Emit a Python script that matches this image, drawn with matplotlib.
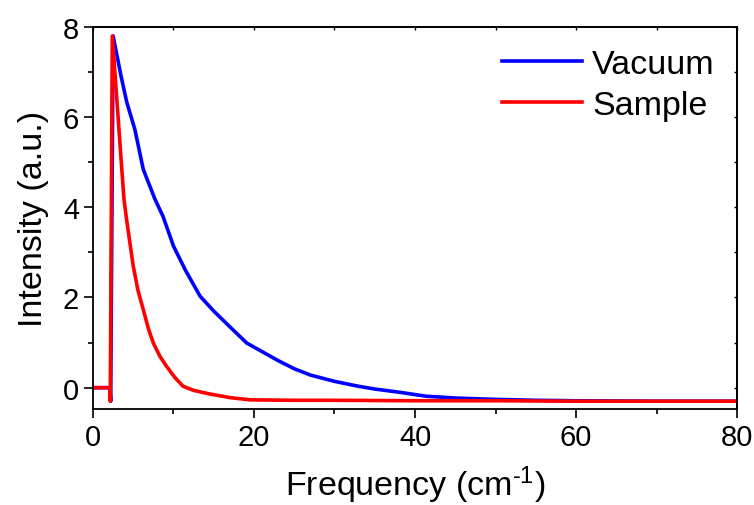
import numpy as np
import matplotlib
matplotlib.use('Agg')
import matplotlib.pyplot as plt

plt.rcParams['font.family'] = ['Liberation Sans', 'DejaVu Sans']
plt.rcParams['mathtext.fontset'] = 'custom'
plt.rcParams['mathtext.rm'] = 'Liberation Sans'
plt.rcParams['mathtext.it'] = 'Liberation Sans'

# values
vac_x = [0, 2.1, 2.2, 2.5, 3, 3.5, 4.2, 5.2, 6.25, 7.7, 8.7, 10, 11.5, 13.3, 15, 17, 19.1, 21, 23, 25,
         27, 30, 33, 35, 38, 41.4, 45, 50, 55, 60, 70, 80]
vac_y = [0, 0, -0.3, 7.8, 7.35, 6.9, 6.33, 5.73, 4.84, 4.18, 3.8, 3.14, 2.6, 2.03, 1.7, 1.35, 0.99, 0.8, 0.6, 0.42,
         0.28, 0.14, 0.03, -0.03, -0.1, -0.19, -0.23, -0.26, -0.28, -0.29, -0.3, -0.3]

smp_x = [0, 2.1, 2.15, 2.4, 3.0, 3.5, 3.85, 4.2, 4.6, 5.0, 5.6, 6.25, 6.9, 7.5, 8.3, 9.15, 10.2, 11.2,
         12.5, 14.5, 17, 19.5, 25, 30, 40, 50, 60, 70, 80]
smp_y = [0, 0, -0.3, 7.8, 6.3, 5.05, 4.18, 3.7, 3.2, 2.7, 2.15, 1.73, 1.3, 0.99, 0.7, 0.47, 0.22, 0.03,
         -0.06, -0.14, -0.22, -0.27, -0.28, -0.28, -0.29, -0.29, -0.3, -0.3, -0.3]

fig = plt.figure(figsize=(7.54, 5.06), dpi=100)
ax = fig.add_axes([0.1233, 0.190, 0.8542, 0.7547])

ax.plot(vac_x, vac_y, color='#0000ff', lw=2.6, label='Vacuum')
ax.plot(smp_x, smp_y, color='#ff0000', lw=2.6, label='Sample')

ax.set_xlim(0, 80)
ax.set_ylim(-0.47, 8)
ax.set_xticks([0, 20, 40, 60, 80])
ax.set_xticks([10, 30, 50, 70], minor=True)
ax.set_yticks([0, 2, 4, 6, 8])
ax.set_yticks([1, 3, 5, 7], minor=True)
ax.tick_params(which='both', direction='out', width=1.2)
ax.tick_params(which='major', length=6.5, labelsize=21)
ax.tick_params(which='minor', length=3.6)
for s in ax.spines.values():
    s.set_linewidth(1.3)

# short inward ticks on top and right
top = ax.secondary_xaxis('top')
top.set_xticks([0, 20, 40, 60, 80])
top.set_xticks([10, 30, 50, 70], minor=True)
top.tick_params(which='both', direction='in', width=1.0, length=2.5, labeltop=False)
right = ax.secondary_yaxis('right')
right.set_yticks([0, 2, 4, 6, 8])
right.set_yticks([1, 3, 5, 7], minor=True)
right.tick_params(which='both', direction='in', width=1.0, length=2.5, labelright=False)
for sa in (top, right):
    for s in sa.spines.values():
        s.set_linewidth(1.3)

ax.set_xlabel('Frequency (cm$^{\u20101}$)', fontsize=24.5, labelpad=9)
ax.set_ylabel('Intensity (a.u.)', fontsize=24.5, labelpad=10)

ax.legend(loc='upper right', frameon=False, fontsize=24.5, handlelength=2.35,
          handletextpad=0.3, labelspacing=0.3, borderaxespad=0.45, borderpad=0.2)

plt.savefig('out.png', dpi=100)
